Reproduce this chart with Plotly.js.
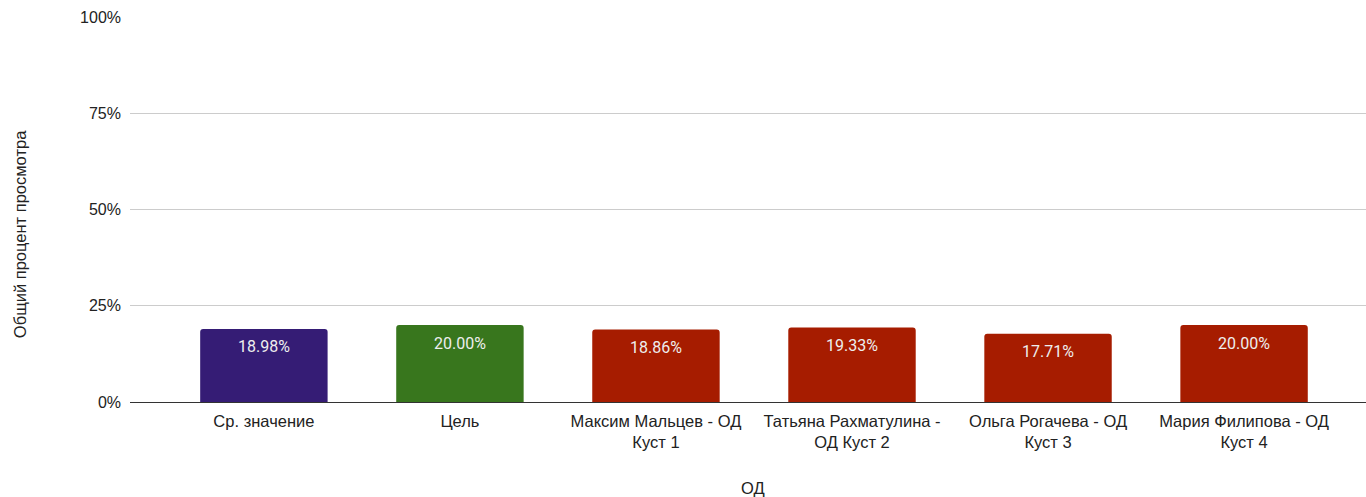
<!DOCTYPE html>
<html>
<head>
<meta charset="utf-8">
<script src="https://cdn.plot.ly/plotly-3.0.1.min.js"></script>
<style>html,body{margin:0;padding:0;background:#fff;}#chart{width:1366px;height:497px;}</style>
</head>
<body>
<div id="chart"></div>
<script>
const categories = ["Ср. значение", "Цель", "Максим Мальцев - ОД Куст 1", "Татьяна Рахматулина - ОД Куст 2", "Ольга Рогачева - ОД Куст 3", "Мария Филипова - ОД Куст 4"];
const tickLabels = ["Ср. значение", "Цель", "Максим Мальцев - ОД<br>Куст 1", "Татьяна Рахматулина -<br>ОД Куст 2", "Ольга Рогачева - ОД<br>Куст 3", "Мария Филипова - ОД<br>Куст 4"];
const values = [18.98, 20.00, 18.86, 19.33, 17.71, 20.00];
const barColors = ["#351c75", "#38761d", "#a61c00", "#a61c00", "#a61c00", "#a61c00"];
const yTicks = [0, 25, 50, 75, 100];
const xTitle = "ОД";
const yTitle = "Общий процент просмотра";

const trace = {
  type: "bar",
  x: categories,
  y: values,
  width: 0.65,
  marker: {color: barColors, cornerradius: 3},
  hoverinfo: "none"
};

const annotations = categories.map((c, i) => ({
  x: c, y: values[i], xref: "x", yref: "y",
  text: values[i].toFixed(2) + "%",
  showarrow: false, yanchor: "middle", yshift: -18,
  font: {family: "Roboto", size: 16, color: "#eeeeee"}
}));
annotations.push({
  xref: "paper", yref: "paper", x: -0.089, y: 0.436,
  text: yTitle, textangle: -90, showarrow: false,
  xanchor: "center", yanchor: "middle",
  font: {size: 16.5, color: "#222"}
});
annotations.push({
  xref: "paper", yref: "paper", x: 0.504, y: -0.223,
  text: xTitle, showarrow: false,
  xanchor: "center", yanchor: "middle",
  font: {size: 16.5, color: "#222"}
});

const layout = {
  width: 1366, height: 497,
  margin: {l: 130, r: 0, t: 17, b: 95},
  paper_bgcolor: "#fff", plot_bgcolor: "#fff",
  showlegend: false,
  font: {family: "Liberation Sans, Arial, sans-serif", size: 16, color: "#222"},
  annotations: annotations,
  xaxis: {
    type: "category",
    categoryorder: "array",
    categoryarray: categories,
    tickvals: categories,
    ticktext: tickLabels,
    range: [-0.683, 5.622],
    showgrid: false, zeroline: false, showline: false,
    ticks: "", ticklabelstandoff: 7,
    tickfont: {size: 16.5, color: "#222"}
  },
  yaxis: {
    range: [0, 100],
    tickvals: yTicks,
    ticktext: yTicks.map(v => v + "%"),
    showgrid: true, gridcolor: "#cccccc", gridwidth: 1,
    zeroline: true, zerolinecolor: "#333333", zerolinewidth: 1,
    showline: false, ticks: "", ticklabelstandoff: 8,
    tickfont: {size: 16, color: "#222"}
  },
  bargap: 0.35
};

Plotly.newPlot("chart", [trace], layout, {displayModeBar: false, staticPlot: true});
</script>
</body>
</html>
